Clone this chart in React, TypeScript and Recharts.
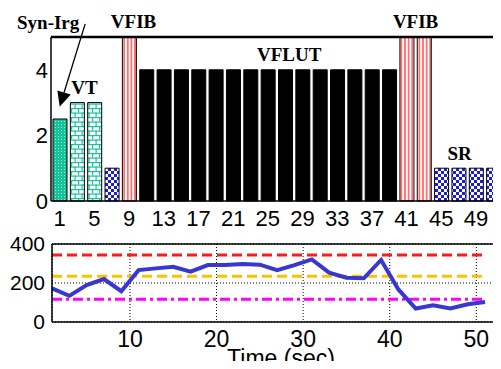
import React from 'react';
import {
  BarChart,
  Bar,
  Cell,
  XAxis,
  YAxis,
  ReferenceDot,
  LineChart,
  Line,
  CartesianGrid,
  ReferenceLine,
} from 'recharts';

// ---------- top panel: rhythm classification per 2-second window ----------
const rhythmTimes = [1, 3, 5, 7, 9, 11, 13, 15, 17, 19, 21, 23, 25, 27, 29, 31, 33, 35, 37, 39, 41, 43, 45, 47, 49, 51];
const rhythmClass = [2.5, 3, 3, 1, 5, 4, 4, 4, 4, 4, 4, 4, 4, 4, 4, 4, 4, 4, 4, 4, 5, 5, 1, 1, 1, 1];
const rhythmTypes = [
  'synirg', 'vt', 'vt', 'sr', 'vfib',
  'vflut', 'vflut', 'vflut', 'vflut', 'vflut', 'vflut', 'vflut', 'vflut',
  'vflut', 'vflut', 'vflut', 'vflut', 'vflut', 'vflut', 'vflut',
  'vfib', 'vfib', 'sr', 'sr', 'sr', 'sr',
];
const classTicks = [0, 2, 4];

const annotations = [
  { text: 'Syn-Irg', x: 1, y: 5.24, dx: -11.5 },
  { text: 'VFIB', x: 9, y: 5.27, dx: 4.5 },
  { text: 'VT', x: 3, y: 3.26, dx: 7.5 },
  { text: 'VFLUT', x: 27, y: 4.28, dx: 4 },
  { text: 'VFIB', x: 41, y: 5.27, dx: 9 },
  { text: 'SR', x: 47, y: 1.25, dx: 1 },
];

// ---------- bottom panel: heart rate over time ----------
const timeSec = [1, 3, 5, 7, 9, 11, 13, 15, 17, 19, 21, 23, 25, 27, 29, 31, 33, 35, 37, 39, 41, 43, 45, 47, 49, 51];
const heartRate = [172, 134, 189, 220, 158, 266, 275, 283, 258, 292, 292, 297, 294, 266, 292, 321, 253, 227, 224, 318, 167, 69, 86, 69, 91, 103];
const timeTicks = [10, 20, 30, 40, 50];
const rateTicks = [0, 200, 400];
const vfibThreshold = 343;
const vtThreshold = 235;
const bradyThreshold = 117;
const thresholdStart = 1;
const thresholdEnd = 51;

const rhythmData = rhythmTimes.map((t, i) => ({ t, v: rhythmClass[i], type: rhythmTypes[i] }));
const rateData = timeSec.map((t, i) => ({ t, hr: heartRate[i] }));

const fillFor: Record<string, string> = {
  synirg: 'url(#pSynIrg)',
  vt: 'url(#pVT)',
  sr: 'url(#pChecker)',
  vfib: 'url(#pVfib)',
  vflut: '#000000',
};

const sans = 'Liberation Sans, Arial, Helvetica, sans-serif';
const serif = 'Liberation Serif, Times New Roman, serif';

const Patterns = () => (
  <svg width={0} height={0} style={{ position: 'absolute', left: 0, top: 0 }}>
    <defs>
      <pattern id="pSynIrg" patternUnits="userSpaceOnUse" width={3} height={3}>
        <rect width={3} height={3} fill="#12c497" />
        <rect x={1} y={1} width={1} height={1} fill="#a6ecd8" />
      </pattern>
      <pattern id="pVT" patternUnits="userSpaceOnUse" width={7} height={9}>
        <rect width={7} height={9} fill="#ffffff" />
        <rect x={0} y={0} width={7} height={1.2} fill="#18c49c" />
        <rect x={0} y={4.5} width={7} height={1.2} fill="#18c49c" />
        <rect x={1} y={0} width={1.2} height={4.5} fill="#18c49c" />
        <rect x={4.5} y={4.5} width={1.2} height={4.5} fill="#18c49c" />
      </pattern>
      <pattern id="pChecker" patternUnits="userSpaceOnUse" width={6} height={6}>
        <rect width={6} height={6} fill="#ffffff" />
        <rect x={0} y={0} width={3} height={3} fill="#1c1ce0" />
        <rect x={3} y={3} width={3} height={3} fill="#1c1ce0" />
      </pattern>
      <pattern id="pVfib" patternUnits="userSpaceOnUse" width={3.6} height={10}>
        <rect width={3.6} height={10} fill="#ffffff" />
        <rect x={1.3} y={0} width={1} height={10} fill="#ff0000" />
      </pattern>
    </defs>
  </svg>
);

const AnnotationText = (text: string, dx: number) => (p: any) => (
  <text
    x={p.cx + dx}
    y={p.cy}
    textAnchor="middle"
    fontFamily={serif}
    fontWeight="bold"
    fontSize={19}
    fill="#000"
  >
    {text}
  </text>
);

const Arrow = (p: any) => {
  const tipX = p.cx;
  const tipY = p.cy;
  const sx = tipX + 25.5;
  const sy = tipY - 83;
  const len = Math.hypot(tipX - sx, tipY - sy);
  const ux = (tipX - sx) / len;
  const uy = (tipY - sy) / len;
  const head = 15;
  const half = 7;
  const bx = tipX - ux * head;
  const by = tipY - uy * head;
  const px = -uy;
  const py = ux;
  return (
    <g>
      <line x1={sx} y1={sy} x2={bx} y2={by} stroke="#000" strokeWidth={1.3} />
      <polygon
        points={`${tipX},${tipY} ${bx + px * half},${by + py * half} ${bx - px * half},${by - py * half}`}
        fill="#000"
      />
    </g>
  );
};

export default function App() {
  return (
    <div
      style={{
        position: 'relative',
        width: 501,
        height: 369,
        margin: -8,
        overflow: 'hidden',
        background: '#fff',
      }}
    >
      <Patterns />
      <div style={{ position: 'absolute', left: 0, top: 0 }}>
        <BarChart
          width={510}
          height={230}
          data={rhythmData}
          margin={{ top: 37, right: 8, bottom: 0, left: 0 }}
          barSize={14}
        >
          <XAxis
            dataKey="t"
            type="category"
            interval={1}
            height={29}
            tickSize={0}
            tickMargin={9}
            tick={{ fontFamily: sans, fontSize: 22, fill: '#000' }}
            axisLine={{ stroke: '#000', strokeWidth: 1.5 }}
            tickLine={false}
          />
          <XAxis
            xAxisId="top"
            dataKey="t"
            type="category"
            orientation="top"
            interval={1}
            mirror
            tick={false}
            tickSize={4}
            axisLine={{ stroke: '#000', strokeWidth: 2.5 }}
            tickLine={{ stroke: '#000' }}
          />
          <YAxis
            width={51}
            domain={[0, 5]}
            ticks={classTicks}
            tickSize={0}
            tickMargin={3}
            tick={{ fontFamily: sans, fontSize: 22, fill: '#000' }}
            axisLine={{ stroke: '#000', strokeWidth: 1.5 }}
            tickLine={false}
          />
          <Bar dataKey="v" stroke="#000" strokeWidth={1} isAnimationActive={false}>
            {rhythmData.map((d, i) => (
              <Cell key={i} fill={fillFor[d.type]} />
            ))}
          </Bar>
          {annotations.map((a, i) => (
            <ReferenceDot
              key={i}
              x={a.x}
              y={a.y}
              r={0}
              ifOverflow="visible"
              shape={AnnotationText(a.text, a.dx)}
            />
          ))}
          <ReferenceDot x={1} y={2.87} r={0} ifOverflow="visible" shape={Arrow} />
        </BarChart>
      </div>
      <div style={{ position: 'absolute', left: 0, top: 230 }}>
        <LineChart
          width={501}
          height={139}
          data={rateData}
          margin={{ top: 14, right: 3, bottom: 0, left: 0 }}
        >
          <CartesianGrid stroke="#000" strokeDasharray="1 2" strokeWidth={1} />
          <XAxis
            dataKey="t"
            type="number"
            domain={[1, 52.5]}
            ticks={timeTicks}
            height={47}
            tickSize={0}
            tickMargin={9}
            tick={{ fontFamily: sans, fontSize: 23, fill: '#000' }}
            axisLine={{ stroke: '#000', strokeWidth: 1.5 }}
            tickLine={false}
            label={{
              value: 'Time (sec)',
              position: 'insideBottom',
              offset: 3,
              dx: 6,
              style: { fontFamily: sans, fontSize: 23, fill: '#000' },
            }}
          />
          <XAxis
            xAxisId="top"
            dataKey="t"
            type="number"
            orientation="top"
            domain={[1, 52.5]}
            ticks={timeTicks}
            mirror
            tick={false}
            tickSize={4}
            axisLine={{ stroke: '#000', strokeWidth: 1.5 }}
            tickLine={{ stroke: '#000' }}
          />
          <YAxis
            width={52}
            domain={[0, 400]}
            ticks={rateTicks}
            tickSize={0}
            tickMargin={7}
            tick={{ fontFamily: sans, fontSize: 21, fill: '#000' }}
            axisLine={{ stroke: '#000', strokeWidth: 1.5 }}
            tickLine={false}
          />
          <YAxis
            yAxisId="right"
            orientation="right"
            domain={[0, 400]}
            ticks={rateTicks}
            mirror
            tick={false}
            tickSize={4}
            axisLine={{ stroke: '#000', strokeWidth: 1.5 }}
            tickLine={{ stroke: '#000' }}
          />
          <ReferenceLine
            segment={[{ x: thresholdStart, y: vfibThreshold }, { x: thresholdEnd, y: vfibThreshold }]}
            stroke="#ff1a1a"
            strokeWidth={3}
            strokeDasharray="10 5"
          />
          <ReferenceLine
            segment={[{ x: thresholdStart, y: vtThreshold }, { x: thresholdEnd, y: vtThreshold }]}
            stroke="#ffc000"
            strokeWidth={3}
            strokeDasharray="10 5"
          />
          <ReferenceLine
            segment={[{ x: thresholdStart, y: bradyThreshold }, { x: thresholdEnd, y: bradyThreshold }]}
            stroke="#ff00ff"
            strokeWidth={3}
            strokeDasharray="10 4 3 4"
          />
          <Line
            dataKey="hr"
            stroke="#3838d0"
            strokeWidth={4}
            dot={false}
            isAnimationActive={false}
          />
        </LineChart>
      </div>
    </div>
  );
}
